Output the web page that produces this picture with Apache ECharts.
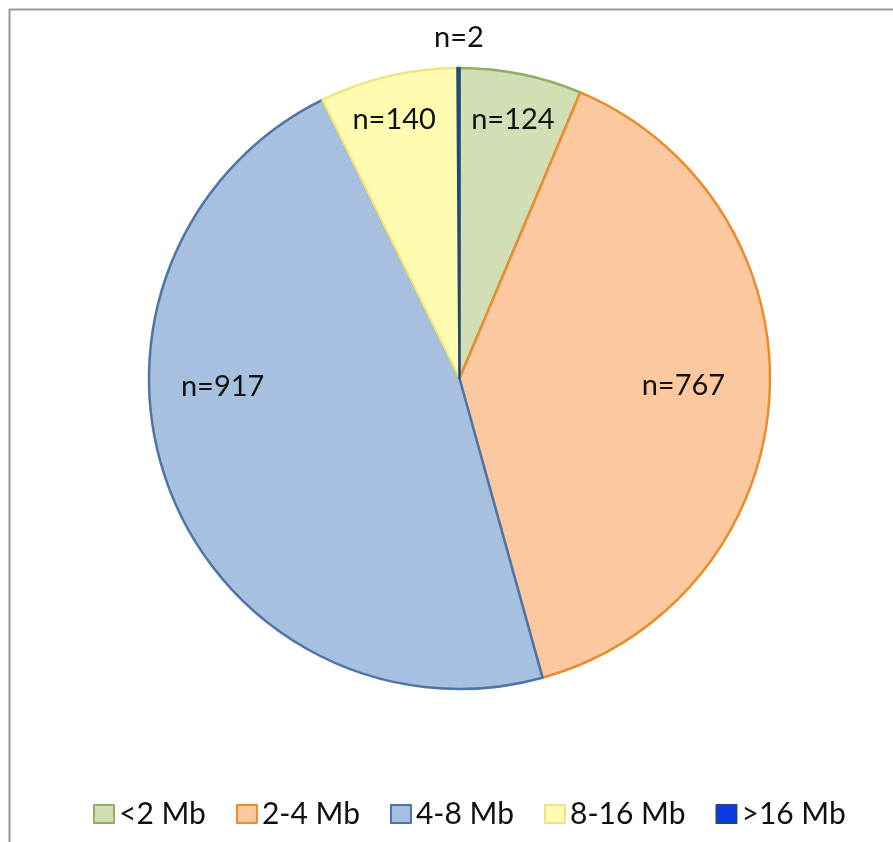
<!DOCTYPE html>
<html>
<head>
<meta charset="utf-8">
<style>
  html, body { margin: 0; padding: 0; background: #ffffff; }
  #chart { width: 893px; height: 842px; }
</style>
<script src="https://cdn.jsdelivr.net/npm/echarts@6/dist/echarts.min.js"></script>
</head>
<body>
<div id="chart"></div>
<script>
// Genome size classes and the number of genomes in each
const categories = ['<2 Mb', '2-4 Mb', '4-8 Mb', '8-16 Mb', '>16 Mb'];
const counts = [124, 767, 917, 140, 2];

// Slice fill and outline colours per class
const fills = ['#D2DEB3', '#FBC8A0', '#A8C0DF', '#FFFCB2', '#0A3BE0'];
const borders = ['#8FAE5E', '#EA8C2C', '#4C74A8', '#EFE385', '#24487A'];

// Label shifts from the default inside spot, per slice
const labelShift = [[22, -104], [66, -3], [-89, -48], [-29, -105], [0, -183]];

const chart = echarts.init(document.getElementById('chart'));

chart.setOption({
  backgroundColor: '#ffffff',
  animation: false,
  graphic: [{
    type: 'rect',
    shape: { x: 9.5, y: 9.5, width: 1000, height: 1000 },
    style: { fill: 'none', stroke: '#9a9a9a', lineWidth: 2 },
    silent: true
  }],
  legend: {
    top: 794,
    left: 88,
    itemWidth: 20,
    itemHeight: 18,
    itemGap: 30,
    textStyle: { fontFamily: 'Lato', fontSize: 30, lineHeight: 30, color: '#111111' },
    data: categories.map((name, i) => ({
      name,
      icon: 'rect',
      itemStyle: { color: fills[i], borderColor: borders[i], borderWidth: 2 }
    }))
  },
  series: [{
    type: 'pie',
    center: [459.5, 378.5],
    radius: 310.5,
    startAngle: 90,
    clockwise: true,
    avoidLabelOverlap: false,
    label: {
      show: true,
      position: 'inside',
      fontFamily: 'Lato',
      fontSize: 29,
      color: '#111111',
      formatter: p => 'n=' + p.value
    },
    labelLine: { show: false },
    labelLayout: p => ({ dx: labelShift[p.dataIndex][0], dy: labelShift[p.dataIndex][1] }),
    emphasis: { disabled: true },
    data: categories.map((name, i) => ({
      name,
      value: counts[i],
      itemStyle: { color: fills[i], borderColor: borders[i], borderWidth: 2.5 }
    }))
  }]
});
</script>
</body>
</html>
